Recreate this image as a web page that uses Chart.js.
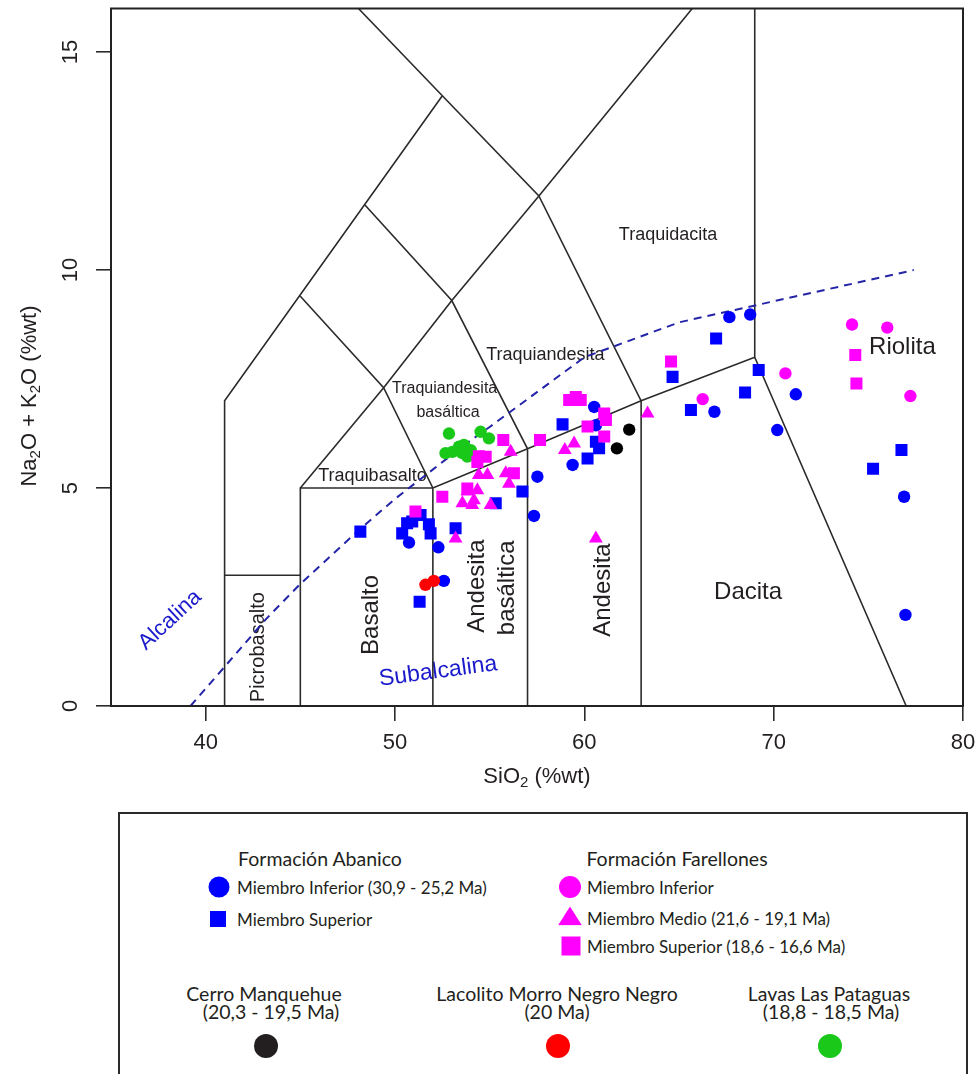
<!DOCTYPE html>
<html>
<head>
<meta charset="utf-8">
<script src="https://cdn.jsdelivr.net/npm/chart.js@4.4.1/dist/chart.umd.min.js"></script>
<style>
  body { margin: 0; background: #fff; }
  #wrap { position: relative; width: 980px; height: 1074px; overflow: hidden; }
  #tas { position: absolute; left: 0; top: 0; }
  #legend { position: absolute; left: 118px; top: 812px; width: 850px; height: 320px;
            border: 2px solid #2a2a2a; box-sizing: border-box; }
  .lg { position: absolute; font-family: Lato, "Open Sans", sans-serif; font-size: 17px;
        color: #231f20; white-space: nowrap; line-height: 1; }
  .h { font-size: 19.5px; }
  .c { transform: translate(-50%, -50%); text-align: center; }
  .l { transform: translate(0, -50%); }
  .mk { position: absolute; transform: translate(-50%, -50%); }
</style>
</head>
<body>
<div id="wrap">
  <canvas id="tas" width="980" height="800"></canvas>
  <div id="legend"></div>
  <div class="lg h c" style="left:320px;top:859px">Formación Abanico</div>
  <div class="mk" style="left:219px;top:887px;width:21px;height:21px;border-radius:50%;background:#0000ff"></div>
  <div class="lg l" style="left:237px;top:887px">Miembro Inferior (30,9 - 25,2 Ma)</div>
  <div class="mk" style="left:218px;top:919px;width:16px;height:16px;background:#0000ff"></div>
  <div class="lg l" style="left:237px;top:919px">Miembro Superior</div>

  <div class="lg h c" style="left:677px;top:859px">Formación Farellones</div>
  <div class="mk" style="left:570px;top:887px;width:22px;height:22px;border-radius:50%;background:#ff00ff"></div>
  <div class="lg l" style="left:587px;top:887px">Miembro Inferior</div>
  <div class="mk" style="left:570px;top:916px;width:24px;height:19px;background:#ff00ff;clip-path:polygon(50% 0,100% 100%,0 100%)"></div>
  <div class="lg l" style="left:587px;top:918px">Miembro Medio (21,6 - 19,1 Ma)</div>
  <div class="mk" style="left:571px;top:946px;width:19px;height:19px;background:#ff00ff"></div>
  <div class="lg l" style="left:587px;top:946px">Miembro Superior (18,6 - 16,6 Ma)</div>

  <div class="lg h c" style="left:264px;top:994px">Cerro Manquehue</div>
  <div class="lg h c" style="left:271px;top:1012px">(20,3 - 19,5 Ma)</div>
  <div class="mk" style="left:266px;top:1046px;width:24px;height:24px;border-radius:50%;background:#231f20"></div>

  <div class="lg h c" style="left:557px;top:994px">Lacolito Morro Negro Negro</div>
  <div class="lg h c" style="left:557px;top:1012px">(20 Ma)</div>
  <div class="mk" style="left:558px;top:1046px;width:24px;height:24px;border-radius:50%;background:#ff0000"></div>

  <div class="lg h c" style="left:829px;top:994px">Lavas Las Pataguas</div>
  <div class="lg h c" style="left:831px;top:1012px">(18,8 - 18,5 Ma)</div>
  <div class="mk" style="left:830px;top:1046px;width:24px;height:24px;border-radius:50%;background:#19c819"></div>
</div>
<script>
// axis ticks
const siO2Ticks = [40, 50, 60, 70, 80];
const alkTicks = [0, 5, 10, 15];

// Formación Abanico - Miembro Inferior (circles)
const abInfX = [50.74, 52.29, 52.58, 57.34, 57.52, 59.38, 60.52, 60.61, 66.87, 67.66, 68.76, 71.17, 70.19, 76.89, 76.96];
const abInfY = [3.75, 3.64, 2.87, 4.36, 5.26, 5.53, 6.86, 6.44, 6.75, 8.92, 8.98, 7.15, 6.33, 4.80, 2.09];

// Formación Abanico - Miembro Superior (squares)
const abSupX = [48.17, 50.38, 50.64, 50.91, 51.35, 51.79, 51.88, 53.2, 51.3, 56.73, 55.32, 58.85, 60.17, 60.61, 60.78, 64.66, 66.96, 65.63, 68.49, 69.21, 76.75, 75.25];
const abSupY = [4.0, 3.96, 4.19, 4.23, 4.38, 4.17, 3.96, 4.08, 2.39, 4.92, 4.65, 6.46, 5.68, 6.06, 5.91, 7.55, 8.43, 6.79, 7.19, 7.71, 5.87, 5.44];

// Formación Farellones - Miembro Inferior (circles)
const faInfX = [74.14, 76.0, 70.62, 66.25, 77.22];
const faInfY = [8.75, 8.68, 7.63, 7.04, 7.11];

// Formación Farellones - Miembro Medio (triangles)
const faMedX = [63.34, 59.46, 58.97, 56.11, 55.85, 56.02, 54.88, 54.43, 54.35, 53.82, 54.17, 53.56, 54.08, 55.05, 53.2, 60.61];
const faMedY = [6.71, 6.02, 5.87, 5.83, 5.34, 5.1, 5.3, 5.3, 4.95, 4.92, 4.72, 4.65, 4.61, 4.61, 3.84, 3.84];

// Formación Farellones - Miembro Superior (squares)
const faSupX = [64.58, 59.2, 59.55, 59.81, 61.05, 61.14, 60.17, 61.05, 57.66, 55.72, 54.43, 54.79, 54.35, 56.28, 53.82, 52.5, 51.08, 74.31, 74.37];
const faSupY = [7.9, 7.02, 7.09, 7.02, 6.71, 6.56, 6.41, 6.18, 6.10, 6.10, 5.73, 5.72, 5.6, 5.34, 4.99, 4.8, 4.46, 8.05, 7.4];

// Cerro Manquehue
const manqX = [62.37, 61.72];
const manqY = [6.34, 5.91];

// Lacolito Morro Negro
const morroX = [51.61, 52.05];
const morroY = [2.78, 2.87];

// Lavas Las Pataguas
const patX = [52.85, 54.52, 54.96, 52.67, 53.03, 53.38, 53.64, 53.56, 53.82, 54.0];
const patY = [6.25, 6.29, 6.14, 5.8, 5.83, 5.95, 5.99, 5.8, 5.72, 5.87];

// TAS field boundaries (Le Bas et al. 1986), one polyline per array
const tasLines = [
  [[41, 0], [41, 7], [52.5, 14]],
  [[48.07, 16], [52.5, 14], [57.6, 11.7], [63, 7], [63, 0]],
  [[41, 3], [45, 3]],
  [[45, 0], [45, 5], [52, 5], [52, 0]],
  [[45, 5], [49.4, 7.3], [53, 9.3], [57.6, 11.7], [65.7, 16]],
  [[45, 9.4], [49.4, 7.3], [52, 5], [57, 5.9], [63, 7], [69, 8], [77, 0]],
  [[48.4, 11.5], [53, 9.3], [57, 5.9], [57, 0]],
  [[69, 8], [69, 16]]
];

// alkaline / subalkaline divide (Irvine & Baragar 1971)
const ibX = [39.2, 40, 43.2, 45, 48, 50, 53.7, 55, 60, 65, 77.4];
const ibY = [0, 0.4, 2, 2.8, 4, 4.75, 6, 6.4, 8, 8.8, 10];

// field names and where they sit (SiO2, alkalis)
const fieldNames = ['Picrobasalto', 'Basalto', 'Andesita', 'basáltica', 'Andesita', 'Dacita', 'Riolita',
  'Traquidacita', 'Traquiandesita', 'Traquiandesita', 'basáltica', 'Traquibasalto', 'Alcalina', 'Subalcalina'];
const fieldX = [42.78, 48.76, 54.37, 55.95, 61.03, 68.65, 76.8, 64.42, 57.94, 52.62, 52.8, 48.81, 38.12, 52.28];
const fieldY = [1.35, 2.09, 2.75, 2.71, 2.66, 2.61, 8.23, 10.8, 8.05, 7.29, 6.74, 5.28, 1.97, 0.79];
const fieldStyle = [
  { size: 20, rot: -90 }, { size: 24, rot: -90 }, { size: 24, rot: -90 }, { size: 24, rot: -90 },
  { size: 24, rot: -90 }, { size: 24 }, { size: 24 }, { size: 18 }, { size: 18 }, { size: 16 },
  { size: 16 }, { size: 18 }, { size: 22, rot: -43, color: '#1a1acc' }, { size: 23, rot: -7.6, color: '#1a1acc' }
];

const pts = (xs, ys) => xs.map((x, i) => ({ x: x, y: ys[i] }));
const linePts = () => {
  const out = [];
  tasLines.forEach(l => { l.forEach(p => out.push({ x: p[0], y: p[1] })); out.push({ x: l[l.length - 1][0], y: null }); });
  return out;
};

const sym = (label, data, color, style, r) => ({
  label, data, pointStyle: style, pointRadius: r, pointHoverRadius: r,
  backgroundColor: color, borderColor: color, borderWidth: 0, showLine: false
});

const datasets = [
  sym('Farellones Medio', pts(faMedX, faMedY), '#ff00ff', 'triangle', 8),
  sym('Farellones Superior', pts(faSupX, faSupY), '#ff00ff', 'rect', 8.5),
  sym('Farellones Inferior', pts(faInfX, faInfY), '#ff00ff', 'circle', 6.2),
  sym('Las Pataguas', pts(patX, patY), '#19c819', 'circle', 6.2),
  sym('Morro Negro', pts(morroX, morroY), '#ff0000', 'circle', 6.2),
  sym('Cerro Manquehue', pts(manqX, manqY), '#000000', 'circle', 6.2),
  sym('Abanico Superior', pts(abSupX, abSupY), '#0000ff', 'rect', 8.5),
  sym('Abanico Inferior', pts(abInfX, abInfY), '#0000ff', 'circle', 6.2),
  { label: 'Irvine-Baragar', data: pts(ibX, ibY), showLine: true, pointRadius: 0, borderColor: '#2424a8',
    borderWidth: 2, borderDash: [8, 6], fill: false, tension: 0 },
  { label: 'TAS', data: linePts(), showLine: true, spanGaps: false, pointRadius: 0, borderColor: '#2b2b2b',
    borderWidth: 1.6, fill: false, tension: 0 }
];

function drawRich(ctx, parts, size, cx, cy, rot) {
  const base = size + 'px "Liberation Sans", Arial, sans-serif';
  const sub = Math.round(size * 0.7) + 'px "Liberation Sans", Arial, sans-serif';
  let w = 0;
  parts.forEach(p => { ctx.font = p[1] ? sub : base; w += ctx.measureText(p[0]).width; });
  ctx.save();
  ctx.translate(cx, cy);
  ctx.rotate(rot * Math.PI / 180);
  ctx.fillStyle = '#231f20';
  ctx.textBaseline = 'middle';
  ctx.textAlign = 'left';
  let x = -w / 2;
  parts.forEach(p => {
    ctx.font = p[1] ? sub : base;
    ctx.fillText(p[0], x, p[1] ? size * 0.28 : 0);
    x += ctx.measureText(p[0]).width;
  });
  ctx.restore();
}

const tasDecor = {
  id: 'tasDecor',
  beforeDatasetsDraw(chart) {
    const { ctx, scales: { x, y } } = chart;
    fieldNames.forEach((name, i) => {
      const st = fieldStyle[i];
      ctx.save();
      ctx.translate(x.getPixelForValue(fieldX[i]), y.getPixelForValue(fieldY[i]));
      ctx.rotate((st.rot || 0) * Math.PI / 180);
      ctx.font = st.size + 'px "Liberation Sans", Arial, sans-serif';
      ctx.fillStyle = st.color || '#231f20';
      ctx.textAlign = 'center';
      ctx.textBaseline = 'middle';
      ctx.fillText(name, 0, 0);
      ctx.restore();
    });
  },
  afterDatasetsDraw(chart) {
    const { ctx, chartArea: a, scales: { x, y } } = chart;
    ctx.save();
    ctx.strokeStyle = '#222';
    ctx.lineWidth = 2;
    ctx.strokeRect(a.left, a.top, a.right - a.left, a.bottom - a.top);
    ctx.fillStyle = '#231f20';
    ctx.font = '22px "Liberation Sans", Arial, sans-serif';
    ctx.textAlign = 'center';
    ctx.textBaseline = 'middle';
    siO2Ticks.forEach(v => ctx.fillText(String(v), x.getPixelForValue(v), a.bottom + 37));
    alkTicks.forEach(v => {
      ctx.save();
      ctx.translate(a.left - 40, y.getPixelForValue(v));
      ctx.rotate(-Math.PI / 2);
      ctx.fillText(String(v), 0, 0);
      ctx.restore();
    });
    ctx.restore();
    drawRich(ctx, [['SiO', 0], ['2', 1], [' (%wt)', 0]], 22, (a.left + a.right) / 2, a.bottom + 71, 0);
    drawRich(ctx, [['Na', 0], ['2', 1], ['O + K', 0], ['2', 1], ['O (%wt)', 0]], 22, 30, 396, -90);
  }
};

new Chart(document.getElementById('tas'), {
  type: 'scatter',
  data: { datasets },
  options: {
    responsive: false,
    animation: false,
    events: [],
    layout: { padding: { left: 0, top: 8, right: 17, bottom: 0 } },
    plugins: { legend: { display: false }, tooltip: { enabled: false } },
    scales: {
      x: {
        type: 'linear', min: 35, max: 80,
        afterBuildTicks: s => { s.ticks = siO2Ticks.map(v => ({ value: v })); },
        afterFit: s => { s.height = 94; },
        grid: { drawOnChartArea: false, drawTicks: true, tickLength: 15, color: '#2b2b2b', lineWidth: 1.6 },
        border: { display: false },
        ticks: { display: false }
      },
      y: {
        type: 'linear', min: 0, max: 16,
        afterBuildTicks: s => { s.ticks = alkTicks.map(v => ({ value: v })); },
        afterFit: s => { s.width = 111; },
        grid: { drawOnChartArea: false, drawTicks: true, tickLength: 15, color: '#2b2b2b', lineWidth: 1.6 },
        border: { display: false },
        ticks: { display: false }
      }
    }
  },
  plugins: [tasDecor]
});
</script>
</body>
</html>
